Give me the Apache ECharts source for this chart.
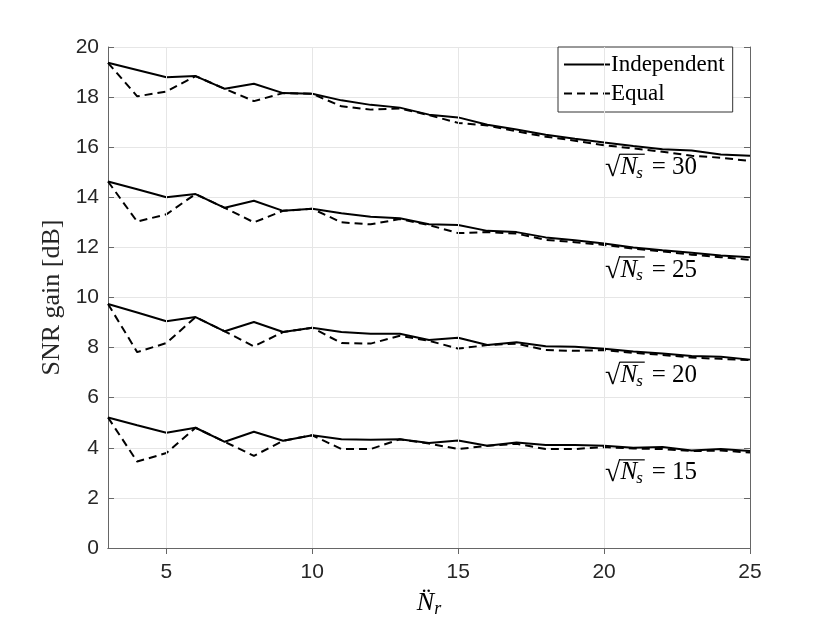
<!DOCTYPE html>
<html><head><meta charset="utf-8">
<script src="https://cdn.jsdelivr.net/npm/echarts@6/dist/echarts.min.js"></script>
<style>html,body{margin:0;padding:0;background:#fff}#c{width:830px;height:623px}</style>
</head><body><div id="c"></div>
<script>
const Nr = [3,4,5,6,7,8,9,10,11,12,13,14,15,16,17,18,19,20,21,22,23,24,25];
const ind30 = [19.37,19.08,18.79,18.84,18.33,18.53,18.16,18.13,17.87,17.69,17.58,17.30,17.19,16.90,16.71,16.50,16.34,16.19,16.05,15.92,15.87,15.71,15.66];
const eq30  = [19.37,18.03,18.22,18.84,18.33,17.84,18.16,18.13,17.63,17.50,17.55,17.28,16.97,16.87,16.63,16.42,16.26,16.08,15.95,15.82,15.66,15.58,15.45];
const ind25 = [14.63,14.32,14.00,14.13,13.58,13.86,13.46,13.54,13.36,13.22,13.16,12.92,12.89,12.66,12.61,12.40,12.29,12.16,12.00,11.89,11.79,11.68,11.61];
const eq25  = [14.63,13.03,13.32,14.13,13.58,13.00,13.46,13.54,13.00,12.92,13.13,12.89,12.57,12.61,12.55,12.30,12.21,12.10,11.95,11.84,11.71,11.61,11.50];
const ind20 = [9.74,9.40,9.05,9.22,8.65,9.02,8.62,8.79,8.62,8.55,8.55,8.30,8.39,8.10,8.21,8.05,8.03,7.95,7.84,7.76,7.66,7.63,7.52];
const eq20  = [9.74,7.82,8.18,9.22,8.65,8.05,8.62,8.79,8.18,8.16,8.47,8.27,7.96,8.10,8.16,7.90,7.87,7.90,7.79,7.71,7.60,7.55,7.50];
const ind15 = [5.21,4.90,4.60,4.80,4.24,4.64,4.28,4.50,4.34,4.32,4.34,4.19,4.29,4.08,4.21,4.11,4.11,4.08,4.00,4.03,3.89,3.95,3.87];
const eq15  = [5.21,3.45,3.79,4.80,4.24,3.68,4.28,4.50,3.95,3.95,4.34,4.17,3.95,4.08,4.16,3.95,3.95,4.03,3.97,3.95,3.87,3.89,3.81];
const xTicks = [5,10,15,20,25];
const annoNs = ['30','25','20','15'];
const annoX = [20,20,20,20];
const annoY = [15.2,11.1,6.9,3.0];

const AX = '#666';
const GRID = '#e6e6e6';
const TICKFONT = {fontFamily:'Liberation Sans', fontSize:21, color:'#262626'};
const pair = arr => arr.map((v,i)=>[Nr[i], v]);
function line(name, arr, dashed){
  return {name, type:'line', data:pair(arr), symbol:'none', symbolSize:0, silent:true, z:3,
    lineStyle:{color:'#000', width:2, type: dashed ? [8,5] : 'solid'},
    itemStyle:{color:'#000'}, animation:false};
}
const chart = echarts.init(document.getElementById('c'), null, {renderer:'canvas'});
const option = {
  animation:false,
  grid:{left:108, right:80, top:47, bottom:70},
  legend:{
    data:['Independent','Equal'], orient:'vertical', left:558, top:47,
    backgroundColor:'#fff', borderColor:'#333', borderWidth:1, padding:[6,8,7,5],
    itemWidth:46, itemHeight:14, itemGap:6,
    itemStyle:{opacity:0},
    textStyle:{fontFamily:'Liberation Serif', fontSize:23, color:'#000', padding:[0,0,0,-4]}
  },
  xAxis:[{
    type:'value', min:3, max:25,
    axisLine:{onZero:false, lineStyle:{color:AX}},
    axisTick:{inside:true, length:6, lineStyle:{color:AX}, customValues:xTicks},
    axisLabel:Object.assign({margin:14, customValues:xTicks}, TICKFONT),
    splitLine:{show:false},
    name:'{n|N\u0308}{r|r}', nameLocation:'middle', nameGap:40,
    nameTextStyle:{rich:{
      n:{fontFamily:'Liberation Serif', fontStyle:'italic', fontSize:26, color:'#000'},
      r:{fontFamily:'Liberation Serif', fontStyle:'italic', fontSize:18, color:'#000', padding:[12,0,0,0]}
    }}
  },{
    type:'value', min:3, max:25, position:'top',
    axisLine:{lineStyle:{color:AX}},
    axisTick:{inside:true, length:6, lineStyle:{color:AX}, customValues:xTicks},
    axisLabel:{show:false}, splitLine:{show:false}
  }],
  yAxis:[{
    type:'value', min:0, max:20, interval:2,
    axisLine:{show:true, lineStyle:{color:AX}},
    axisTick:{show:true, inside:true, length:6, lineStyle:{color:AX}},
    axisLabel:Object.assign({margin:9}, TICKFONT),
    splitLine:{show:true, lineStyle:{color:GRID}},
    name:'SNR gain [dB]', nameLocation:'middle', nameGap:36,
    nameTextStyle:{fontFamily:'Liberation Serif', fontSize:26, color:'#262626'}
  },{
    type:'value', min:0, max:20, interval:2, position:'right',
    axisLine:{show:true, lineStyle:{color:AX}},
    axisTick:{show:true, inside:true, length:6, lineStyle:{color:AX}},
    axisLabel:{show:false}, splitLine:{show:false}
  }],
  series:[
    {type:'line', data:[], silent:true, z:1, markLine:{silent:true, symbol:'none', animation:false,
      label:{show:false}, lineStyle:{color:GRID, width:1, type:'solid'},
      data:xTicks.slice(0,4).map(v=>({xAxis:v}))}},
    line('Independent', ind30, false), line('Equal', eq30, true),
    line('Independent', ind25, false), line('Equal', eq25, true),
    line('Independent', ind20, false), line('Equal', eq20, true),
    line('Independent', ind15, false), line('Equal', eq15, true)
  ]
};
chart.setOption(option);

// annotations "√N_s = k"
const cv = document.createElement('canvas').getContext('2d');
function tw(font, s){ cv.font = font; return cv.measureText(s).width; }
const FS = 25;
const fMain = FS + 'px "Liberation Serif"';
const fRoot = '28px "Liberation Serif"';
const fIt = 'italic ' + FS + 'px "Liberation Serif"';
const fSub = 'italic 17px "Liberation Serif"';
const graphics = [];
annoNs.forEach((k, i) => {
  const p = chart.convertToPixel({xAxisIndex:0, yAxisIndex:0}, [annoX[i], annoY[i]]);
  const wR = tw(fRoot, '\u221A');
  const wN = tw(fIt, 'N');
  const wS = tw(fSub, 's');
  const ch = [];
  ch.push({type:'text', x:0, y:1, style:{text:'\u221A', font:fRoot, fill:'#000', textVerticalAlign:'middle'}});
  ch.push({type:'text', x:wR, y:0, style:{text:'N', font:fIt, fill:'#000', textVerticalAlign:'middle'}});
  ch.push({type:'text', x:wR+wN-1, y:6, style:{text:'s', font:fSub, fill:'#000', textVerticalAlign:'middle'}});
  ch.push({type:'line', shape:{x1:wR-1, y1:-FS*0.52, x2:wR+wN+wS+1, y2:-FS*0.52}, style:{stroke:'#000', lineWidth:1.2}});
  ch.push({type:'text', x:wR+wN+wS+8, y:0, style:{text:'= ' + k, font:fMain, fill:'#000', textVerticalAlign:'middle'}});
  graphics.push({type:'group', x:p[0]+1, y:p[1], children:ch, silent:true});
});
chart.setOption({graphic:graphics});
</script>
</body></html>
